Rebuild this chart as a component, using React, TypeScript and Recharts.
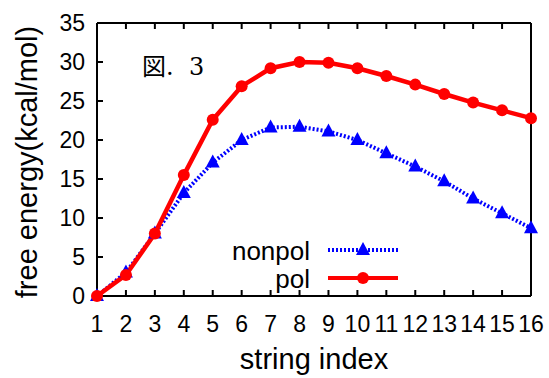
import { LineChart, Line, XAxis, YAxis, Legend, Label } from "recharts";

const stringIndex = [1, 2, 3, 4, 5, 6, 7, 8, 9, 10, 11, 12, 13, 14, 15, 16];
const nonpol = [0, 3.0, 8.0, 13.2, 17.1, 20.0, 21.6, 21.7, 21.1, 20.0, 18.3, 16.6, 14.7, 12.5, 10.6, 8.7];
const pol = [0, 2.7, 8.0, 15.5, 22.6, 26.9, 29.2, 30.0, 29.9, 29.2, 28.2, 27.1, 25.9, 24.8, 23.8, 22.8];
const yTicks = [0, 5, 10, 15, 20, 25, 30, 35];

const data = stringIndex.map((s, i) => ({ idx: s, nonpol: nonpol[i], pol: pol[i] }));

const font = "'Liberation Sans', Arial, sans-serif";

function Triangle(props: any) {
  const { cx, cy } = props;
  if (cx == null || cy == null) return null;
  return (
    <polygon
      points={`${cx},${cy - 8} ${cx - 7},${cy + 5} ${cx + 7},${cy + 5}`}
      fill="#0000ff"
    />
  );
}

function LegendBox() {
  return (
    <svg width={220} height={66} style={{ display: "block" }}>
      <text x={110} y={28} textAnchor="end" fontSize={26} fontFamily={font} fill="#000">
        nonpol
      </text>
      <line x1={128} y1={18} x2={198} y2={18} stroke="#0000ff" strokeWidth={4} strokeDasharray="2 2" />
      <polygon points="163,10 156,23 170,23" fill="#0000ff" />
      <text x={110} y={56} textAnchor="end" fontSize={26} fontFamily={font} fill="#000">
        pol
      </text>
      <line x1={128} y1={46} x2={198} y2={46} stroke="#ff0000" strokeWidth={4} />
      <circle cx={163} cy={46} r={6} fill="#ff0000" />
    </svg>
  );
}

export default function App() {
  const tickStyle = { fill: "#000", fontSize: 23, fontFamily: font };
  return (
    <div style={{ position: "absolute", left: 0, top: 0, width: 549, height: 378, background: "#fff" }}>
      <LineChart
        width={549}
        height={378}
        data={data}
        margin={{ top: 22, right: 17, bottom: 42, left: 37 }}
      >
        <XAxis
          xAxisId="b"
          dataKey="idx"
          type="number"
          domain={[1, 16]}
          ticks={stringIndex}
          interval={0}
          height={40}
          tickSize={-6}
          tickMargin={26}
          tick={tickStyle}
          axisLine={{ stroke: "#000", strokeWidth: 2 }}
          tickLine={{ stroke: "#000", strokeWidth: 2 }}
        >
          <Label
            content={() => (
              <text x={314} y={369} textAnchor="middle" fontSize={29} fontFamily={font} fill="#000">
                string index
              </text>
            )}
          />
        </XAxis>
        <XAxis
          xAxisId="t"
          dataKey="idx"
          type="number"
          orientation="top"
          domain={[1, 16]}
          ticks={stringIndex}
          interval={0}
          height={1}
          tickSize={-6}
          tickFormatter={() => ""}
          axisLine={{ stroke: "#000", strokeWidth: 2 }}
          tickLine={{ stroke: "#000", strokeWidth: 2 }}
        />
        <YAxis
          yAxisId="l"
          domain={[0, 35]}
          ticks={yTicks}
          interval={0}
          width={60}
          tickSize={-6}
          tickMargin={18}
          tick={tickStyle}
          axisLine={{ stroke: "#000", strokeWidth: 2 }}
          tickLine={{ stroke: "#000", strokeWidth: 2 }}
        >
          <Label
            content={() => (
              <text
                x={37}
                y={162}
                transform="rotate(-90 37 162)"
                textAnchor="middle"
                fontSize={29}
                fontFamily={font}
                fill="#000"
              >
                free energy(kcal/mol)
              </text>
            )}
          />
        </YAxis>
        <YAxis
          yAxisId="r"
          orientation="right"
          domain={[0, 35]}
          ticks={yTicks}
          interval={0}
          width={1}
          tickSize={-6}
          tickFormatter={() => ""}
          axisLine={{ stroke: "#000", strokeWidth: 2 }}
          tickLine={{ stroke: "#000", strokeWidth: 2 }}
        />
        <Legend
          layout="horizontal"
          verticalAlign="middle"
          align="center"
          content={() => <LegendBox />}
          wrapperStyle={{ left: 200, top: 232, width: 220, height: 66 }}
        />
        <Line
          xAxisId="b"
          yAxisId="l"
          type="linear"
          dataKey="nonpol"
          name="nonpol"
          stroke="#0000ff"
          strokeWidth={4}
          strokeDasharray="2 2"
          dot={<Triangle />}
          isAnimationActive={false}
        />
        <Line
          xAxisId="b"
          yAxisId="l"
          type="linear"
          dataKey="pol"
          name="pol"
          stroke="#ff0000"
          strokeWidth={4.5}
          dot={{ r: 6, fill: "#ff0000", stroke: "#ff0000", strokeWidth: 0 }}
          isAnimationActive={false}
        />
      </LineChart>
      <div
        style={{
          position: "absolute",
          left: 142,
          top: 55,
          fontSize: 24,
          lineHeight: 1,
          fontFamily: "'DejaVu Serif', 'Noto Sans CJK JP', serif",
          color: "#000",
          whiteSpace: "pre",
        }}
      >
        {"図.  3"}
      </div>
    </div>
  );
}
